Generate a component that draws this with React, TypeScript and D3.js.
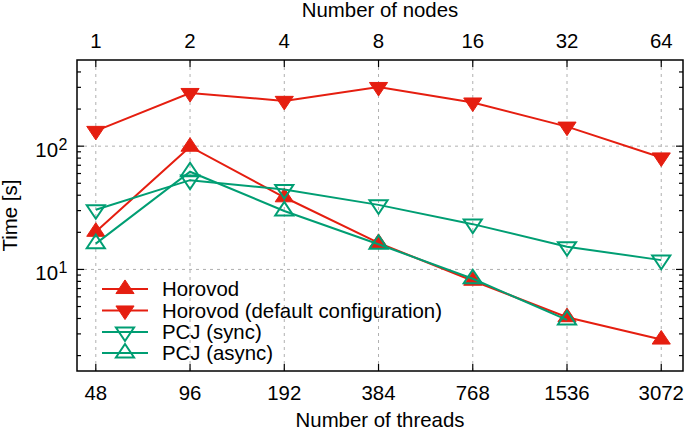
import React from "react";
import * as d3 from "d3";

const threads = [48, 96, 192, 384, 768, 1536, 3072];
const nodes = [1, 2, 4, 8, 16, 32, 64];
const horovod = [20.2, 99, 38.5, 16.4, 8.1, 4.1, 2.7];
const horovodDefault = [133, 270, 233, 302, 226, 144, 81];
const pcjSync = [30.5, 53, 44.5, 33.4, 23.3, 15.3, 11.9];
const pcjAsync = [16.2, 62, 29.8, 16.0, 8.4, 3.9];
const yMajor = [10, 100];
const yMinor = [2, 3, 4, 5, 6, 7, 8, 9, 20, 30, 40, 50, 60, 70, 80, 90, 200, 300, 400];

const RED = "#e51e10";
const GREEN = "#009e73";
const FONT = "'Liberation Sans', Arial, Helvetica, sans-serif";
const FS = 20.4;

const W = 685, H = 430;
const L = 77, R = 683, T = 60, B = 371;

type Series = { name: string; values: number[]; color: string; marker: "up" | "down"; filled: boolean };
const series: Series[] = [
  { name: "Horovod", values: horovod, color: RED, marker: "up", filled: true },
  { name: "Horovod (default configuration)", values: horovodDefault, color: RED, marker: "down", filled: true },
  { name: "PCJ (sync)", values: pcjSync, color: GREEN, marker: "down", filled: false },
  { name: "PCJ (async)", values: pcjAsync, color: GREEN, marker: "up", filled: false },
];

const hs = 6.8;
function triPath(cx: number, cy: number, dir: "up" | "down"): string {
  const s = dir === "up" ? 1 : -1;
  const a = (4 * hs) / 3, b = (2 * hs) / 3;
  return `M${cx},${cy - s * a}L${cx - a},${cy + s * b}L${cx + a},${cy + s * b}Z`;
}

export default function App() {
  const x = d3.scaleLog().base(2).domain([41.8, 3605]).range([L, R]);
  const y = d3.scaleLog().domain([1.5, 500]).range([B, T]);
  const line = d3.line<[number, number]>().x((d) => x(d[0])).y((d) => y(d[1]));

  const legendRows = [289, 310.5, 332, 353];

  return (
    <svg width={W} height={H} style={{ position: "absolute", left: 0, top: 0, background: "#fff" }} fontFamily={FONT}>
      {/* grid */}
      {threads.map((t) => (
        <line key={"gx" + t} x1={x(t)} x2={x(t)} y1={T} y2={B} stroke="#b0b0b0" strokeWidth={1} strokeDasharray="3,4" />
      ))}
      {yMajor.map((v) => (
        <line key={"gy" + v} x1={L} x2={R} y1={y(v)} y2={y(v)} stroke="#b0b0b0" strokeWidth={1} strokeDasharray="3,4" />
      ))}
      {/* ticks */}
      {threads.map((t) => (
        <g key={"tx" + t}>
          <line x1={x(t)} x2={x(t)} y1={B} y2={B - 7} stroke="#000" strokeWidth={1.2} />
          <line x1={x(t)} x2={x(t)} y1={T} y2={T + 7} stroke="#000" strokeWidth={1.2} />
        </g>
      ))}
      {yMajor.map((v) => (
        <g key={"ty" + v}>
          <line x1={L} x2={L + 7} y1={y(v)} y2={y(v)} stroke="#000" strokeWidth={1.2} />
          <line x1={R} x2={R - 7} y1={y(v)} y2={y(v)} stroke="#000" strokeWidth={1.2} />
        </g>
      ))}
      {yMinor.map((v) => (
        <g key={"tm" + v}>
          <line x1={L} x2={L + 4} y1={y(v)} y2={y(v)} stroke="#000" strokeWidth={1.2} />
          <line x1={R} x2={R - 4} y1={y(v)} y2={y(v)} stroke="#000" strokeWidth={1.2} />
        </g>
      ))}
      {/* series */}
      {series.map((s) => {
        const pts: [number, number][] = s.values.map((v, i) => [threads[i], v]);
        return (
          <g key={s.name}>
            <path d={line(pts) || ""} fill="none" stroke={s.color} strokeWidth={2} />
            {pts.map((p, i) => (
              <path
                key={i}
                d={triPath(x(p[0]), y(p[1]), s.marker)}
                fill={s.filled ? s.color : "none"}
                stroke={s.color}
                strokeWidth={s.filled ? 1 : 2}
                strokeLinejoin="miter"
              />
            ))}
          </g>
        );
      })}
      {/* border */}
      <rect x={L} y={T} width={R - L} height={B - T} fill="none" stroke="#000" strokeWidth={1.5} />
      {/* tick labels */}
      {threads.map((t) => (
        <text key={"lx" + t} x={x(t)} y={399.5} textAnchor="middle" fontSize={FS}>
          {t}
        </text>
      ))}
      {nodes.map((n, i) => (
        <text key={"ln" + n} x={x(threads[i])} y={47.7} textAnchor="middle" fontSize={FS}>
          {n}
        </text>
      ))}
      {yMajor.map((v) => (
        <g key={"ly" + v}>
          <text x={58} y={y(v) + 10.5} textAnchor="end" fontSize={FS}>
            10
          </text>
          <text x={58.5} y={y(v) + 4} textAnchor="start" fontSize={16}>
            {Math.round(Math.log10(v))}
          </text>
        </g>
      ))}
      {/* axis titles */}
      <text x={(L + R) / 2} y={17} textAnchor="middle" fontSize={FS}>
        Number of nodes
      </text>
      <text x={(L + R) / 2} y={427} textAnchor="middle" fontSize={FS}>
        Number of threads
      </text>
      <text transform={`translate(17,${(T + B) / 2}) rotate(-90)`} textAnchor="middle" fontSize={FS}>
        Time [s]
      </text>
      {/* legend */}
      {series.map((s, i) => (
        <g key={"lg" + s.name}>
          <line x1={102} x2={148} y1={legendRows[i]} y2={legendRows[i]} stroke={s.color} strokeWidth={2} />
          <path
            d={triPath(125, legendRows[i], s.marker)}
            fill={s.filled ? s.color : "none"}
            stroke={s.color}
            strokeWidth={s.filled ? 1 : 2}
          />
          <text x={162} y={legendRows[i] + 7} fontSize={FS}>
            {s.name}
          </text>
        </g>
      ))}
    </svg>
  );
}
